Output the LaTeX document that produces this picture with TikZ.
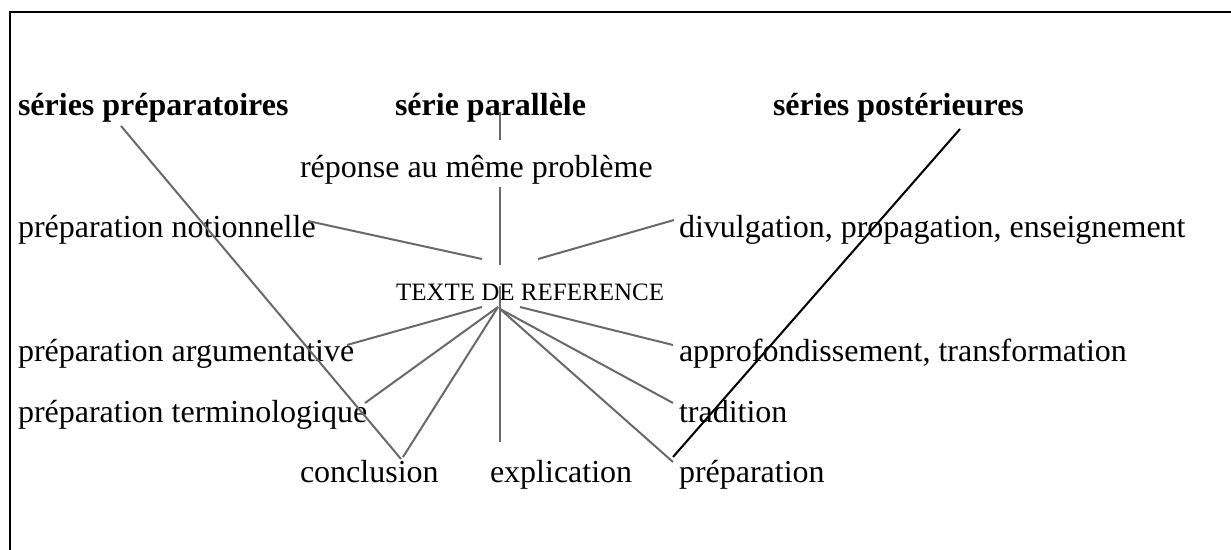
\documentclass[tikz,border=0pt]{standalone}
\usepackage{fontspec}
\setmainfont{Liberation Serif}
\definecolor{linegray}{RGB}{105,105,105}
\begin{document}
\begin{tikzpicture}[x=1pt,y=-1pt,
  lbl/.style={anchor=base west, inner sep=0pt, outer sep=0pt, font=\fontsize{32}{38}\selectfont},
  ttl/.style={lbl, font=\fontsize{32}{38}\selectfont\bfseries},
  small/.style={lbl, font=\fontsize{25}{30}\selectfont},
  link/.style={draw=linegray, line width=2pt},
  blink/.style={draw=black, line width=2pt},
  frame/.style={draw=black, line width=2.6pt}]
\useasboundingbox (0,0) rectangle (1231,549);
% frame (only top and left edges visible)
\coordinate (fbl) at (10,560);
\coordinate (ftl) at (10,12);
\coordinate (ftr) at (1240,12);
\draw[frame] (fbl) -- (ftl) -- (ftr);

% texts
\node[ttl] (sprep) at (18,115) {séries préparatoires};
\node[ttl] (spar) at (395,115) {série parallèle};
\node[ttl] (spost) at (773,115) {séries postérieures};
\node[lbl] (rep) at (300,177) {réponse au même problème};
\node[lbl] (notion) at (18,237) {préparation notionnelle};
\node[lbl] (divul) at (679,237) {divulgation, propagation, enseignement};
\node[small] (ref) at (396,300) {TEXTE DE REFERENCE};
\node[lbl] (argu) at (18,361) {préparation argumentative};
\node[lbl] (appro) at (679,361) {approfondissement, transformation};
\node[lbl] (termi) at (18,422) {préparation terminologique};
\node[lbl] (trad) at (679,422) {tradition};
\node[lbl] (concl) at (300,482) {conclusion};
\node[lbl] (expl) at (490,482) {explication};
\node[lbl] (prepa) at (679,482) {préparation};

% connector end points
\coordinate (hub) at (498,307);
\coordinate (hubr) at (500,309);
\coordinate (sprepE) at (121,126);
\coordinate (conclN) at (401,459);
\coordinate (conclNb) at (403,457);
\coordinate (sparS) at (500,112);
\coordinate (sparE) at (500,140);
\coordinate (repS) at (500,187);
\coordinate (refN) at (500,265);
\coordinate (notionE) at (308,221);
\coordinate (refNW) at (482,259);
\coordinate (refNE) at (538,259);
\coordinate (divulW) at (674,220);
\coordinate (refTop) at (500,286);
\coordinate (explN) at (500,442);
\coordinate (refSW) at (482,307);
\coordinate (arguE) at (347,345);
\coordinate (termiE) at (365,403);
\coordinate (refSE) at (520,307);
\coordinate (approW) at (673,345);
\coordinate (tradW) at (673,403);
\coordinate (prepaW) at (673,462);
\coordinate (spostS) at (960,129);
\coordinate (prepaNW) at (673,457);

% grey connectors
\draw[link] (sprepE) -- (conclN);
\draw[link] (conclNb) -- (hub);
\draw[link] (sparS) -- (sparE);
\draw[link] (repS) -- (refN);
\draw[link] (notionE) -- (refNW);
\draw[link] (refNE) -- (divulW);
\draw[link] (refTop) -- (explN);
\draw[link] (refSW) -- (arguE);
\draw[link] (hub) -- (termiE);
\draw[link] (refSE) -- (approW);
\draw[link] (hubr) -- (tradW);
\draw[link] (hubr) -- (prepaW);
% black connector
\draw[blink] (spostS) -- (prepaNW);
\end{tikzpicture}
\end{document}
